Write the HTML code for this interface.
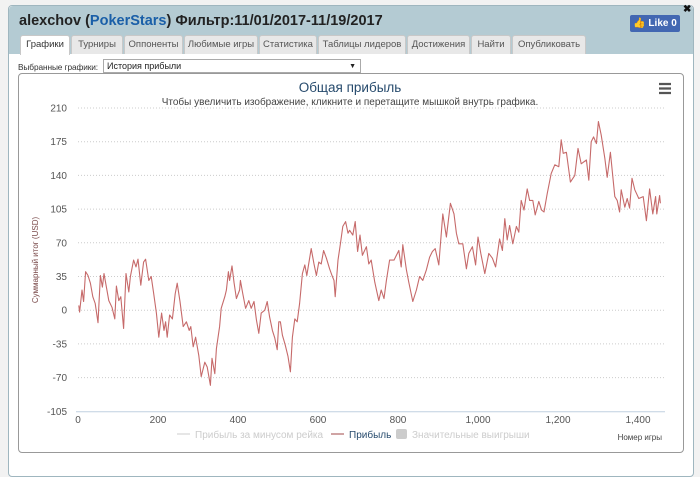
<!DOCTYPE html>
<html><head><meta charset="utf-8"><style>
body{margin:0;width:700px;height:467px;background:#f2f2f2;font-family:"Liberation Sans",sans-serif;overflow:hidden;position:relative}
#panel{position:absolute;left:8px;top:5px;width:684px;height:470px;background:#fff;border:1px solid #9fb6bf;border-radius:4px}
#hdr{position:absolute;left:0;top:0;width:684px;height:48px;background:#b4cbd3;border-radius:4px 4px 0 0}
.tab{position:absolute;top:35px;height:18px;background:#e8e8e8;border:1px solid #c8c8c8;border-bottom:none;border-radius:3px 3px 0 0;font-size:9.5px;color:#555;line-height:18px;text-align:center}
.tab.on{background:#fff;color:#333;height:19px}
#like{position:absolute;left:630px;top:15px;width:50px;height:17px;background:#4267b2;border-radius:2px;color:#fff;font-size:10px;font-weight:bold;line-height:17px;text-align:center}
#close{position:absolute;left:683px;top:4px;font-size:10px;font-weight:bold;color:#111}
#sel-lbl{position:absolute;left:18px;top:62px;font-size:8.3px;color:#333;letter-spacing:-0.1px}
#sel{position:absolute;left:103px;top:59px;width:258px;border:1px solid #aaa;font-size:9px;line-height:13px;padding-left:3px;color:#222;box-sizing:border-box;height:14px}
#chartbox{position:absolute;left:18px;top:73px;width:664px;height:378px;border:1px solid #999;border-radius:4px;background:#fff}
</style></head><body>
<div id="panel">
<div id="hdr"></div>
</div>
<div id="title" style="position:absolute;left:19px;top:13px;font-size:14.5px;font-weight:bold;color:#222">alexchov (<span style="color:#1a5fa8">PokerStars</span>) Фильтр:11/01/2017-11/19/2017</div>
<div id="like">👍 Like 0</div>
<div id="close">✖</div>
<div class="tab on" style="left:20px;width:48px">Графики</div>
<div class="tab" style="left:71px;width:50px">Турниры</div>
<div class="tab" style="left:124px;width:57px">Оппоненты</div>
<div class="tab" style="left:184px;width:72px">Любимые игры</div>
<div class="tab" style="left:259px;width:56px">Статистика</div>
<div class="tab" style="left:318px;width:86px">Таблицы лидеров</div>
<div class="tab" style="left:407px;width:61px">Достижения</div>
<div class="tab" style="left:471px;width:38px">Найти</div>
<div class="tab" style="left:512px;width:72px">Опубликовать</div>
<div id="sel-lbl">Выбранные графики:</div>
<div id="sel">История прибыли<span style="position:absolute;right:4px;font-size:7px">▼</span></div>
<div id="chartbox"></div>
<svg id="chart" width="700" height="467" style="position:absolute;left:0;top:0"></svg>
<script>
const yTicks=[210,175,140,105,70,35,0,-35,-70,-105];
const xTicks=[0,200,400,600,800,1000,1200,1400];
const games=[2,4,10,14,19,25,31,37,43,50,56,61,65,71,77,85,92,96,102,107,114,120,127,131,139,145,150,157,164,169,177,183,189,196,202,209,215,219,223,229,236,243,248,255,263,271,278,282,288,294,302,308,317,323,331,335,342,346,354,358,367,371,376,379,385,390,396,404,406,412,419,427,433,440,446,452,458,467,473,479,486,492,498,502,506,511,518,525,531,536,542,548,554,561,567,572,583,590,596,602,608,614,621,629,635,640,643,650,656,662,669,675,679,687,693,699,705,711,721,727,733,742,752,758,765,771,779,790,802,808,812,821,827,837,846,854,862,871,879,886,893,902,912,921,931,940,946,952,962,971,977,986,994,1000,1007,1017,1027,1036,1044,1054,1061,1067,1073,1079,1087,1096,1102,1108,1115,1123,1129,1137,1143,1152,1159,1165,1173,1183,1192,1202,1208,1213,1221,1231,1242,1250,1258,1271,1277,1283,1289,1296,1301,1308,1317,1323,1331,1342,1348,1354,1358,1367,1373,1379,1385,1392,1402,1413,1421,1429,1437,1444,1447,1454,1456];
const profit=[5,-2,21,9,40,36,28,14,7,-13,36,24,38,24,10,3,-9,25,10,14,-19,38,19,35,52,45,53,26,50,53,31,35,18,-3,-28,-3,-21,-12,-28,-5,-9,17,28,9,-17,-12,-21,-17,-38,-28,-47,-69,-54,-59,-78,-50,-66,-40,-17,2,14,21,40,31,46,29,12,21,31,17,2,10,2,9,-10,-24,-3,0,9,-7,-21,-29,-41,-12,-12,-26,-36,-48,-64,-28,-9,-12,7,38,47,36,64,48,36,50,48,62,54,43,36,31,14,52,69,87,92,80,83,78,92,61,78,57,66,48,52,29,10,21,12,31,52,52,62,45,68,42,29,9,21,35,31,42,55,61,64,47,100,76,111,100,80,69,69,43,59,66,47,76,59,38,59,54,45,74,62,95,73,88,69,87,81,114,104,126,114,114,99,113,104,102,121,142,151,149,177,163,164,133,140,168,152,156,135,175,180,173,196,182,158,138,164,118,114,102,125,107,116,106,137,125,116,118,93,126,100,118,100,119,111];
const NS="http://www.w3.org/2000/svg";
const svg=document.getElementById('chart');
const X0=78,XS=0.4,Y0=310.2,YS=33.7/35,XR=665;
function xPos(g){return X0+g*XS;}
function yPos(v){return Y0-v*YS;}
function mk(tag,attrs,txt){const e=document.createElementNS(NS,tag);for(const k in attrs)e.setAttribute(k,attrs[k]);if(txt!==undefined)e.textContent=txt;svg.appendChild(e);return e;}
let e;
e=mk('text',{x:350,y:92,'text-anchor':'middle','font-size':'13.5','fill':'#274b6d','font-family':'Liberation Sans, sans-serif'},'Общая прибыль');


e=mk('text',{x:350,y:105,'text-anchor':'middle','font-size':'10','fill':'#444','font-family':'Liberation Sans, sans-serif'},'Чтобы увеличить изображение, кликните и перетащите мышкой внутрь графика.');


e=mk('path',{d:'M659 84h12M659 88.5h12M659 93h12',stroke:'#555','stroke-width':'2.2'});


yTicks.forEach(v=>{
  if(v!==-105){e=mk('line',{x1:X0,x2:XR,y1:yPos(v),y2:yPos(v),stroke:'#ccc','stroke-dasharray':'1,2'});
  
  }
  e=mk('text',{x:67,y:yPos(v)+3.5,'text-anchor':'end','font-size':'10','fill':'#555','font-family':'Liberation Sans, sans-serif'},String(v));
  
  
});
e=mk('line',{x1:X0-2,x2:XR,y1:yPos(-105)+0.5,y2:yPos(-105)+0.5,stroke:'#c0d0e0','stroke-width':'1'});


xTicks.forEach(g=>{
  e=mk('text',{x:xPos(g),y:423,'text-anchor':'middle','font-size':'10','fill':'#555','font-family':'Liberation Sans, sans-serif'},g.toLocaleString('en-US'));
  
  
});
e=mk('text',{x:0,y:0,transform:'translate(38,260) rotate(-90)','text-anchor':'middle','font-size':'8','fill':'#7a4a4a','font-family':'Liberation Sans, sans-serif'},'Суммарный итог (USD)');


e=mk('text',{x:662,y:440,'text-anchor':'end','font-size':'8','fill':'#444','font-family':'Liberation Sans, sans-serif'},'Номер игры');


let d='';
games.forEach((g,i)=>{d+=(i?'L':'M')+xPos(g).toFixed(1)+' '+yPos(profit[i]).toFixed(1);});
e=mk('path',{d:d,fill:'none',stroke:'#c66a6a','stroke-width':'1.1','stroke-linejoin':'round'});


e=mk('line',{x1:177,x2:190,y1:434,y2:434,stroke:'#ccc'});


e=mk('text',{x:195,y:438,'font-size':'10','fill':'#ccc','font-family':'Liberation Sans, sans-serif'},'Прибыль за минусом рейка');


e=mk('line',{x1:331,x2:344,y1:434,y2:434,stroke:'#a04848'});


e=mk('text',{x:349,y:438,'font-size':'10','fill':'#274b6d','font-family':'Liberation Sans, sans-serif'},'Прибыль');


e=mk('rect',{x:396,y:429,width:11,height:10,rx:2,fill:'#ccc'});


e=mk('text',{x:412,y:438,'font-size':'10','fill':'#ccc','font-family':'Liberation Sans, sans-serif'},'Значительные выигрыши');


</script>
</body></html>
